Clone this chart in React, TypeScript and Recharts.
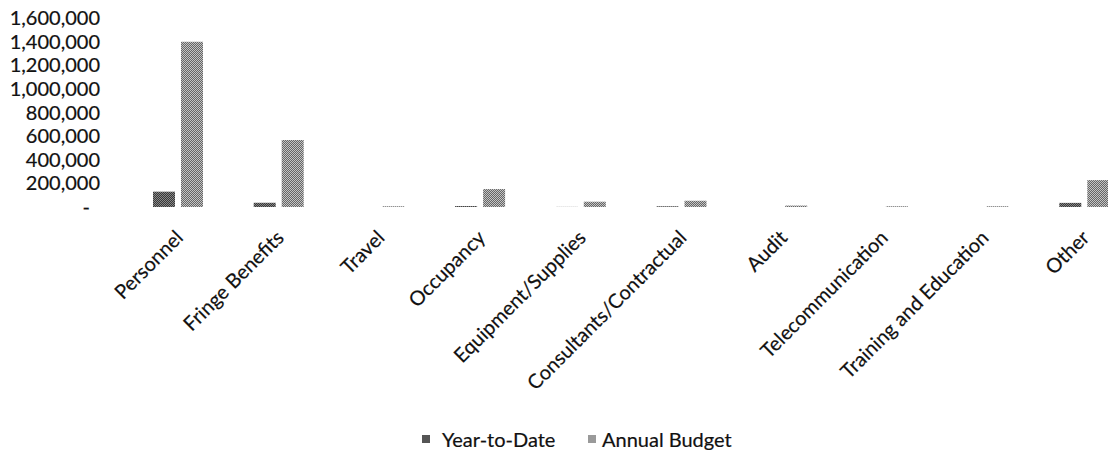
import { BarChart, Bar, XAxis, YAxis, Legend } from "recharts";

const categories = [
  "Personnel",
  "Fringe Benefits",
  "Travel",
  "Occupancy",
  "Equipment/Supplies",
  "Consultants/Contractual",
  "Audit",
  "Telecommunication",
  "Training and Education",
  "Other",
];

const yearToDate = [130000, 35000, 0, 8000, 1000, 6000, 0, 0, 0, 35000];
const annualBudget = [1400000, 567000, 6000, 152000, 45000, 53000, 12000, 6000, 6000, 228000];

const yTicks = [0, 200000, 400000, 600000, 800000, 1000000, 1200000, 1400000, 1600000];

const data = categories.map((name, i) => ({
  name,
  ytd: yearToDate[i],
  budget: annualBudget[i],
}));

const FONT = "Lato, 'Open Sans', sans-serif";

function YTick(props: any) {
  const { x, y, payload } = props;
  const v = payload.value as number;
  const label = v === 0 ? "-" : v.toLocaleString("en-US");
  return (
    <text
      x={v === 0 ? x - 10 : x}
      y={y}
      dy="0.35em"
      textAnchor="end"
      fill="#111"
      stroke="#111"
      strokeWidth={0.2}
      fontSize={20}
      fontFamily={FONT}
    >
      {label}
    </text>
  );
}

function XTick(props: any) {
  const { x, y, payload } = props;
  return (
    <g transform={`translate(${x + 6},${y + 32})`}>
      <text
        textAnchor="end"
        transform="rotate(-45)"
        fill="#111"
        stroke="#111"
        strokeWidth={0.2}
        fontSize={20}
        fontFamily={FONT}
      >
        {payload.value}
      </text>
    </g>
  );
}

function LegendBox() {
  const sq = (left: number, color: string) => (
    <span
      style={{ position: "absolute", left, top: 8, width: 8, height: 8, background: color }}
    />
  );
  const txt = (left: number, label: string) => (
    <span style={{ position: "absolute", left, top: 0, lineHeight: "24px", whiteSpace: "nowrap" }}>
      {label}
    </span>
  );
  return (
    <div
      style={{
        position: "relative",
        height: 24,
        fontFamily: FONT,
        fontSize: 20,
        color: "#111",
        WebkitTextStroke: "0.2px #111",
      }}
    >
      {sq(422, "#555555")}
      {txt(442, "Year-to-Date")}
      {sq(588, "#9a9a9a")}
      {txt(602, "Annual Budget")}
    </div>
  );
}

export default function App() {
  return (
    <div
      style={{
        position: "absolute",
        left: 0,
        top: 0,
        width: 1108,
        height: 453,
        overflow: "hidden",
        background: "#fff",
      }}
    >
      <BarChart
        width={1150}
        height={453}
        data={data}
        margin={{ top: 18, right: 15, left: 0, bottom: 2 }}
        barSize={22}
        barGap={6}
      >
        <defs>
          <pattern id="ytdPat" width="2" height="2" patternUnits="userSpaceOnUse">
            <rect width="2" height="2" fill="#383838" />
            <rect x="0" y="0" width="1" height="1" fill="#888888" />
            <rect x="1" y="1" width="1" height="1" fill="#888888" />
          </pattern>
          <pattern id="budgetPat" width="2" height="2" patternUnits="userSpaceOnUse">
            <rect width="2" height="2" fill="#666666" />
            <rect x="0" y="0" width="1" height="1" fill="#c4c4c4" />
            <rect x="1" y="1" width="1" height="1" fill="#c4c4c4" />
          </pattern>
        </defs>
        <XAxis
          dataKey="name"
          interval={0}
          height={220}
          axisLine={false}
          tickLine={false}
          tickSize={0}
          tickMargin={0}
          tick={<XTick />}
        />
        <YAxis
          width={128}
          domain={[0, 1600000]}
          ticks={yTicks}
          axisLine={false}
          tickLine={false}
          tickSize={0}
          tickMargin={28}
          tick={<YTick />}
        />
        <Legend verticalAlign="bottom" content={() => <LegendBox />} />
        <Bar dataKey="ytd" name="Year-to-Date" fill="url(#ytdPat)" isAnimationActive={false} />
        <Bar dataKey="budget" name="Annual Budget" fill="url(#budgetPat)" isAnimationActive={false} />
      </BarChart>
    </div>
  );
}
